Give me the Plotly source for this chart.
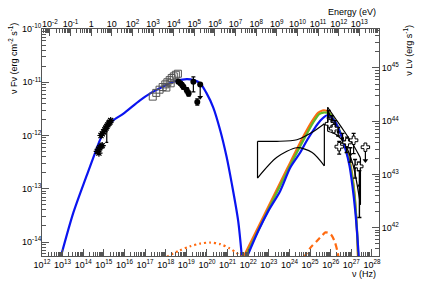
import numpy as np
import plotly.graph_objects as go

# ---------------- data (log10 values) ----------------
# synchrotron model (blue)
sync_lognu = [12.91, 13.52, 14.17, 14.58, 14.89, 15.38, 15.95, 16.75, 17.25, 17.83, 18.36, 19.02,
              19.36, 19.67, 19.97, 20.30, 20.64, 20.95, 21.20, 21.51, 21.69]
sync_logF = [-14.28, -13.45, -12.75, -12.32, -12.02, -11.74, -11.59, -11.34, -11.21, -11.09, -10.99, -10.94,
             -10.96, -11.02, -11.2, -11.47, -11.9, -12.4, -12.9, -13.6, -14.28]

# inverse-Compton models
ic_blue_lognu = [21.94, 22.49, 22.97, 23.55, 24.04, 24.52, 24.85, 25.21, 25.50, 25.69, 25.83, 25.99,
                 26.22, 26.47, 26.71, 26.91, 27.05, 27.19, 27.29, 27.36]
ic_blue_logF = [-14.28, -13.79, -13.42, -13.04, -12.60, -12.32, -12.09, -11.87, -11.72, -11.65, -11.62, -11.64,
                -11.75, -11.96, -12.25, -12.57, -12.94, -13.42, -13.89, -14.28]

ic_orange_lognu = [21.77, 22.83, 23.89, 24.67, 25.11, 25.40, 25.60, 25.74, 25.88, 26.13, 26.42, 26.71,
                   26.95, 27.14, 27.26, 27.32]
ic_orange_logF = [-14.28, -13.45, -12.62, -12.02, -11.72, -11.57, -11.53, -11.53, -11.55, -11.68, -11.91, -12.19,
                  -12.53, -13.04, -13.70, -14.28]

ic_green_lognu = [21.86, 22.90, 23.96, 24.74, 25.16, 25.44, 25.64, 25.79, 25.93, 26.18, 26.47, 26.71,
                  26.95, 27.14, 27.27, 27.33]
ic_green_logF = [-14.28, -13.45, -12.62, -12.04, -11.75, -11.60, -11.57, -11.57, -11.58, -11.72, -11.94, -12.23,
                 -12.57, -13.08, -13.74, -14.28]

# orange dotted / dashed components
dot_lognu = [18.05, 18.65, 19.19, 19.67, 20.16, 20.64, 21.10, 21.41, 21.69]
dot_logF = [-14.28, -14.16, -14.08, -14.03, -14.01, -14.04, -14.12, -14.2, -14.28]

dash_lognu = [24.69, 25.01, 25.33, 25.60, 25.74, 25.99, 26.18, 26.32, 26.38]
dash_logF = [-14.30, -14.11, -13.98, -13.87, -13.82, -13.85, -13.98, -14.17, -14.30]

# optical data (black asterisks)
opt_lognu = [14.86, 14.92, 14.99, 15.05, 15.10, 15.14, 15.19, 15.24, 15.29, 15.33,
             14.68, 14.74, 14.80, 14.86, 14.92, 14.76]
opt_logF = [-12.00, -11.97, -11.93, -11.89, -11.86, -11.83, -11.80, -11.77, -11.75, -11.72,
            -12.30, -12.26, -12.23, -12.20, -12.19, -12.33]
opt_err_up = [0.03] * 16
opt_err_dn = [0.03, 0.03, 0.03, 0.03, 0.03, 0.30, 0.03, 0.03, 0.03, 0.03,
              0.03, 0.03, 0.03, 0.03, 0.03, 0.03]

# X-ray (open squares)
xr_lognu = [17.37, 17.54, 17.70, 17.85, 17.98, 18.08, 18.19, 18.29, 18.39, 18.49, 18.59, 18.03, 18.24]
xr_logF = [-11.27, -11.2, -11.14, -11.09, -11.04, -11.0, -10.96, -10.92, -10.89, -10.86, -10.84, -11.1, -11.02]

# hard X-ray (filled circles)
hx_lognu = [18.61, 18.71, 18.79, 18.86, 19.02, 19.11, 19.34, 19.53, 19.67]
hx_logF = [-10.99, -11.02, -11.05, -11.09, -11.15, -11.21, -10.99, -11.37, -11.04]
hx_err_up = [0.03, 0.03, 0.04, 0.04, 0.05, 0.05, 0.09, 0.06, 0.0]
hx_err_dn = [0.03, 0.03, 0.04, 0.04, 0.05, 0.05, 0.19, 0.06, 0.0]

# TeV data, open crosses
tev_o_lognu = [25.94, 26.14, 26.41, 26.79, 27.11, 27.36, 27.68]
tev_o_logF = [-11.78, -11.87, -12.21, -12.13, -12.09, -12.58, -12.22]
tev_o_err_up = [0.06, 0.06, 0.10, 0.10, 0.13, 0.08, 0.0]
tev_o_err_dn = [0.06, 0.06, 0.14, 0.10, 0.25, 0.08, 0.0]

# TeV data, black points
tev_b_lognu = [25.90, 26.06, 26.21, 26.36, 26.57, 26.77, 26.95, 27.18, 27.39]
tev_b_logF = [-11.60, -11.70, -11.80, -11.93, -12.05, -12.20, -12.35, -12.60, -12.94]
tev_b_err_up = [0.07, 0.07, 0.08, 0.08, 0.09, 0.10, 0.12, 0.15, 0.28]
tev_b_err_dn = [0.07, 0.07, 0.08, 0.08, 0.09, 0.12, 0.15, 0.20, 0.60]

# upper limits (start, end of arrow)
ul_lognu = [19.67, 27.68]
ul_logF = [-11.04, -12.22]
ul_end_logF = [-11.28, -12.47]

# butterflies
fermi_lognu = [22.45, 23.39, 24.36, 25.10, 25.69]
fermi_up_logF = [-12.11, -12.11, -12.08, -11.94, -11.78]
fermi_lo_logF = [-12.80, -12.41, -12.23, -12.32, -12.57]

tevbf_lognu = [25.85, 26.26, 26.67, 27.08, 27.44]
tevbf_up_logF = [-11.47, -11.70, -11.93, -12.17, -12.42]
tevbf_lo_logF = [-11.92, -11.98, -12.15, -12.55, -13.30]

# axis conversions
H_EV = 4.135667e-15               # eV s
LOG_NU_PER_EV = -np.log10(H_EV)   # log10(nu/Hz) at E = 1 eV
LOG_L_OVER_F = 55.732             # log10(nuLnu / nuFnu)
X_LOG_RANGE = [12, 28.34]
Y_LOG_RANGE = [-14.263, -10]

BLUE = "#0a14f0"
ORANGE = "#ff6a10"
GREEN = "#5cb82a"
FONT = "Liberation Sans, Arial, sans-serif"


def p(a):
    return 10 ** np.asarray(a, dtype=float)


def errs(v, up, dn):
    v = np.asarray(v, float)
    return (p(v + np.asarray(up)) - p(v)), (p(v) - p(v - np.asarray(dn)))


fig = go.Figure()


def line(xl, yl, color, dash="solid", width=2.2, shape="spline"):
    fig.add_trace(go.Scatter(x=p(xl), y=p(yl), mode="lines",
                             line=dict(color=color, width=width, dash=dash, shape=shape, smoothing=0.8),
                             hoverinfo="skip", showlegend=False))


line(sync_lognu, sync_logF, BLUE)
line(dot_lognu, dot_logF, ORANGE, dash="2px,3px")
line(dash_lognu, dash_logF, ORANGE, dash="6px,4px")
line(ic_orange_lognu, ic_orange_logF, ORANGE)
line(ic_green_lognu, ic_green_logF, GREEN)
line(ic_blue_lognu, ic_blue_logF, BLUE)

# butterflies
for xs, up, lo in [(fermi_lognu, fermi_up_logF, fermi_lo_logF),
                   (tevbf_lognu, tevbf_up_logF, tevbf_lo_logF)]:
    fig.add_trace(go.Scatter(x=p(xs), y=p(up), mode="lines",
                             line=dict(color="black", width=1.2, shape="spline", smoothing=0.8),
                             hoverinfo="skip", showlegend=False))
    fig.add_trace(go.Scatter(x=p(xs), y=p(lo), mode="lines",
                             line=dict(color="black", width=1.2, shape="spline", smoothing=0.8),
                             hoverinfo="skip", showlegend=False))
    for i in (0, -1):
        fig.add_trace(go.Scatter(x=p([xs[i], xs[i]]), y=p([up[i], lo[i]]), mode="lines",
                                 line=dict(color="black", width=1.2),
                                 hoverinfo="skip", showlegend=False))

# upper-limit arrows
ul_up, ul_dn = errs(ul_logF, [0, 0], np.asarray(ul_logF) - np.asarray(ul_end_logF))
fig.add_trace(go.Scatter(x=p(ul_lognu), y=p(ul_logF), mode="markers",
                         marker=dict(size=1, color="black"),
                         error_y=dict(type="data", symmetric=False, array=ul_up, arrayminus=ul_dn,
                                      color="black", thickness=1.2, width=0),
                         hoverinfo="skip", showlegend=False))
fig.add_trace(go.Scatter(x=p(ul_lognu), y=p(ul_end_logF), mode="markers",
                         marker=dict(symbol="triangle-down", size=5, color="black"),
                         hoverinfo="skip", showlegend=False))

# optical
eu, ed = errs(opt_logF, opt_err_up, opt_err_dn)
fig.add_trace(go.Scatter(x=p(opt_lognu), y=p(opt_logF), mode="markers",
                         marker=dict(symbol="asterisk-open", size=6, color="black",
                                     line=dict(color="black", width=1.2)),
                         error_y=dict(type="data", symmetric=False, array=eu, arrayminus=ed,
                                      color="black", thickness=1.2, width=1.5),
                         hoverinfo="skip", showlegend=False))

# X-ray squares
fig.add_trace(go.Scatter(x=p(xr_lognu), y=p(xr_logF), mode="markers",
                         marker=dict(symbol="square-open", size=7, color="#555555",
                                     line=dict(color="#555555", width=1)),
                         hoverinfo="skip", showlegend=False))

# hard X-ray circles
eu, ed = errs(hx_logF, hx_err_up, hx_err_dn)
fig.add_trace(go.Scatter(x=p(hx_lognu), y=p(hx_logF), mode="markers",
                         marker=dict(symbol="circle", size=6, color="black"),
                         error_y=dict(type="data", symmetric=False, array=eu, arrayminus=ed,
                                      color="black", thickness=1.2, width=2),
                         hoverinfo="skip", showlegend=False))

# TeV black
eu, ed = errs(tev_b_logF, tev_b_err_up, tev_b_err_dn)
fig.add_trace(go.Scatter(x=p(tev_b_lognu), y=p(tev_b_logF), mode="markers",
                         marker=dict(symbol="circle", size=3, color="black"),
                         error_y=dict(type="data", symmetric=False, array=eu, arrayminus=ed,
                                      color="black", thickness=1.4, width=2),
                         hoverinfo="skip", showlegend=False))

# TeV open crosses
eu, ed = errs(tev_o_logF, tev_o_err_up, tev_o_err_dn)
fig.add_trace(go.Scatter(x=p(tev_o_lognu), y=p(tev_o_logF), mode="markers",
                         marker=dict(symbol="cross", size=7, color="white",
                                     line=dict(color="black", width=1)),
                         error_y=dict(type="data", symmetric=False, array=eu, arrayminus=ed,
                                      color="black", thickness=1.2, width=2),
                         hoverinfo="skip", showlegend=False))

# invisible traces to anchor the secondary axes
fig.add_trace(go.Scatter(x=p(np.asarray(sync_lognu) - LOG_NU_PER_EV), y=p(sync_logF),
                         xaxis="x2", yaxis="y", mode="lines", opacity=0,
                         hoverinfo="skip", showlegend=False))
fig.add_trace(go.Scatter(x=p(sync_lognu), y=p(np.asarray(sync_logF) + LOG_L_OVER_F),
                         xaxis="x", yaxis="y2", mode="lines", opacity=0,
                         hoverinfo="skip", showlegend=False))


def sup(k):
    if k == 0:
        return "1"
    if k == 1:
        return "10"
    return "10<sup>%d</sup>" % k


def decade_ticks(lo, hi, labels_special=False):
    ks = [k for k in range(int(np.floor(lo)), int(np.ceil(hi)) + 1) if lo - 1e-9 <= k <= hi + 1e-9]
    vals = [10.0 ** k for k in ks]
    text = [sup(k) if labels_special else "10<sup>%d</sup>" % k for k in ks]
    minor = [m * 10.0 ** k for k in range(int(np.floor(lo)) - 1, int(np.ceil(hi)) + 1)
             for m in range(2, 10) if lo <= np.log10(m * 10.0 ** k) <= hi]
    return vals, text, minor


AX = dict(type="log", showgrid=False, zeroline=False, showline=True, linecolor="#555555", linewidth=1,
          ticks="inside", ticklen=7, tickcolor="#555555", tickwidth=1,
          tickfont=dict(family=FONT, size=9, color="black"), autorange=False)

xv, xt, xm = decade_ticks(*X_LOG_RANGE)
yv, yt, ym = decade_ticks(*Y_LOG_RANGE)
ex_range = [X_LOG_RANGE[0] - LOG_NU_PER_EV, X_LOG_RANGE[1] - LOG_NU_PER_EV]
ev, et, em = decade_ticks(*ex_range, labels_special=True)
l_range = [Y_LOG_RANGE[0] + LOG_L_OVER_F, Y_LOG_RANGE[1] + LOG_L_OVER_F]
lv, lt, lm = decade_ticks(*l_range)


def minor(vals):
    return dict(tickmode="array", tickvals=vals, ticks="inside", ticklen=4,
                tickcolor="#555555", tickwidth=1, showgrid=False)


fig.update_layout(
    width=421, height=286, autosize=False,
    margin=dict(l=42, r=42, t=29, b=30, pad=0),
    paper_bgcolor="white", plot_bgcolor="white",
    xaxis=dict(AX, range=X_LOG_RANGE, tickmode="array", tickvals=xv, ticktext=xt, minor=minor(xm),
               side="bottom", ticklabelstandoff=0),
    yaxis=dict(AX, range=Y_LOG_RANGE, tickmode="array", tickvals=yv, ticktext=yt, minor=minor(ym),
               side="left", ticklabelstandoff=-2),
    xaxis2=dict(AX, range=ex_range, tickmode="array", tickvals=ev, ticktext=et, minor=minor(em),
                side="top", overlaying="x", anchor="y", ticklabelstandoff=-3),
    yaxis2=dict(AX, range=l_range, tickmode="array", tickvals=lv, ticktext=lt, minor=minor(lm),
                side="right", overlaying="y", anchor="x", ticklabelstandoff=0),
    showlegend=False,
)

TF = dict(family=FONT, size=9, color="black")
fig.add_annotation(text="ν Fν (erg cm<sup>-2</sup> s<sup>-1</sup>)", xref="paper", yref="paper",
                   x=-0.088, y=1.035, xanchor="center", yanchor="top", textangle=-90,
                   showarrow=False, font=TF)
fig.add_annotation(text="ν Lν (erg s<sup>-1</sup>)", xref="paper", yref="paper",
                   x=1.086, y=1.03, xanchor="center", yanchor="top", textangle=-90,
                   showarrow=False, font=TF)
fig.add_annotation(text="Energy (eV)", xref="paper", yref="paper",
                   x=0.997, y=1.075, xanchor="right", yanchor="middle",
                   showarrow=False, font=TF)
fig.add_annotation(text="ν (Hz)", xref="paper", yref="paper",
                   x=0.997, y=-0.08, xanchor="right", yanchor="middle",
                   showarrow=False, font=TF)

fig.write_html("out.html", config={"displayModeBar": False, "staticPlot": True},
               post_script="document.body.style.margin='0';document.body.style.overflow='hidden';")
